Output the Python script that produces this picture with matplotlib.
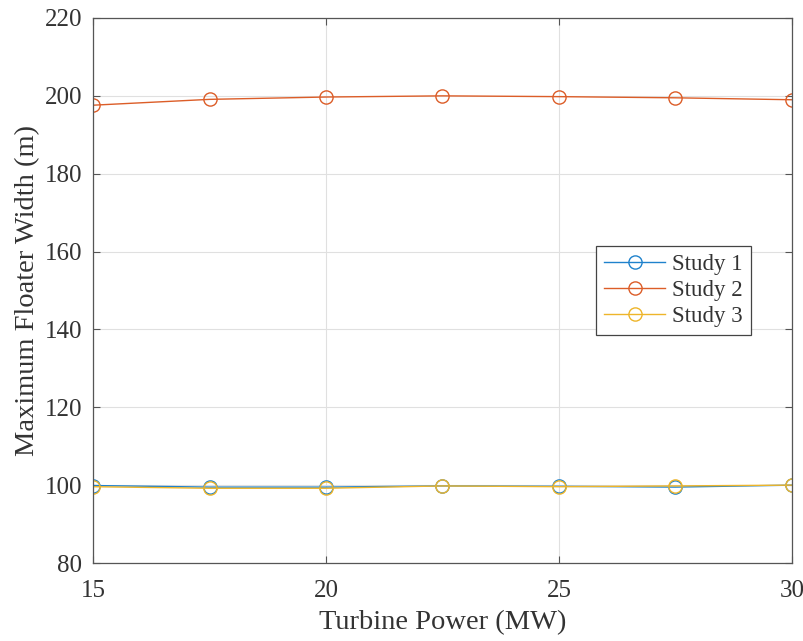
import matplotlib.pyplot as plt
import numpy as np

plt.rcParams['font.family'] = ['Liberation Serif', 'DejaVu Serif']

# turbine power (MW) and max floater width (m) per study
power = [15, 17.5, 20, 22.5, 25, 27.5, 30]
study1 = [99.9, 99.5, 99.5, 99.8, 99.7, 99.5, 100.0]
study2 = [197.6, 199.1, 199.7, 200.0, 199.8, 199.5, 199.0]
study3 = [99.6, 99.2, 99.2, 99.8, 99.6, 99.8, 100.0]

fig = plt.figure(figsize=(8.04, 6.41), dpi=100)
ax = fig.add_axes([93/804, 1 - 563/641, (792-93)/804, (563-18)/641])

ax.plot(power, study1, '-o', color='#1f82cc', mfc='none', ms=9.5, lw=1, label='Study 1')
ax.plot(power, study2, '-o', color='#dc5d28', mfc='none', ms=9.5, lw=1, label='Study 2')
ax.plot(power, study3, '-o', color='#eeb52a', mfc='none', ms=9.5, lw=1, label='Study 3')

ax.set_xlim(15, 30)
ax.set_ylim(80, 220)
ax.set_xticks(np.arange(15, 31, 5))
ax.set_yticks(np.arange(80, 221, 20))
ax.grid(True, color='#e0e0e0', lw=0.8)
ax.set_axisbelow(True)
ax.tick_params(direction='in', labelsize=18, labelcolor='#333333', color='#555555',
               length=5, top=True, right=True)
ax.tick_params(axis='x', pad=12)
ax.tick_params(axis='y', pad=8)
for s in ax.spines.values():
    s.set_color('#555555')
    s.set_linewidth(0.9)

ax.set_xlabel('Turbine Power (MW)', fontsize=20.5, color='#333333', labelpad=6)
ax.set_ylabel('Maximum Floater Width (m)', fontsize=20.5, color='#333333', labelpad=3)

leg = ax.legend(loc='center left', bbox_to_anchor=(0.719, 0.5), fontsize=16.5,
                fancybox=False, edgecolor='#444444', framealpha=1,
                handlelength=2.7, borderpad=0.35, labelspacing=0.2, handletextpad=0.3,
                borderaxespad=0)
leg.get_frame().set_linewidth(0.9)
for t in leg.get_texts():
    t.set_color('#333333')

fig.savefig('out.png', dpi=100)
